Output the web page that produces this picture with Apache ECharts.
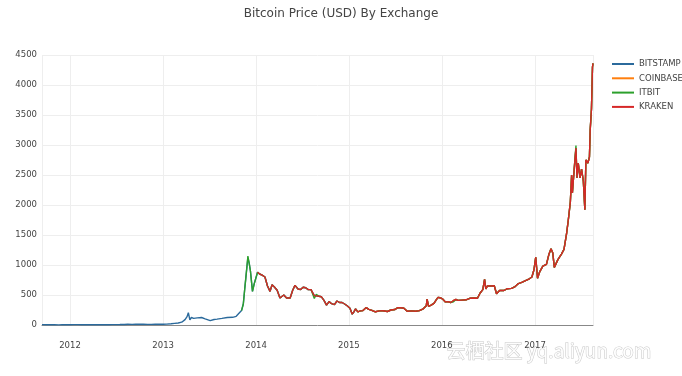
<!DOCTYPE html>
<html>
<head>
<meta charset="utf-8">
<script src="https://cdn.jsdelivr.net/npm/echarts@6/dist/echarts.min.js"></script>
<style>
html, body { margin: 0; padding: 0; background: #fff; }
#main { width: 682px; height: 376px; }
</style>
</head>
<body>
<div id="main"></div>
<script>
// prices (USD), roughly every two weeks, denser near spikes
var dates = [
    '2011-09-13','2011-10-01','2011-10-15','2011-11-01','2011-11-18','2011-12-01','2011-12-15',
    '2012-01-01','2012-01-15','2012-02-01','2012-02-15','2012-03-01','2012-03-15','2012-04-01','2012-04-15',
    '2012-05-01','2012-05-15','2012-06-01','2012-06-15','2012-07-01','2012-07-15','2012-08-01','2012-08-15',
    '2012-09-01','2012-09-15','2012-10-01','2012-10-15','2012-11-01','2012-11-15','2012-12-01','2012-12-15',
    '2013-01-01','2013-01-15','2013-02-01','2013-02-15','2013-03-01','2013-03-15','2013-03-28','2013-04-05',
    '2013-04-10','2013-04-16','2013-04-22','2013-05-01','2013-05-15','2013-06-01','2013-06-15','2013-07-05',
    '2013-07-20','2013-08-01','2013-08-20','2013-09-10','2013-10-01','2013-10-15','2013-10-25','2013-11-05',
    '2013-11-12','2013-11-18','2013-11-22','2013-11-30','2013-12-05','2013-12-10','2013-12-18','2013-12-25',
    '2014-01-07','2014-01-15','2014-01-25','2014-02-05','2014-02-15','2014-02-25','2014-03-05','2014-03-15',
    '2014-03-25','2014-04-05','2014-04-11','2014-04-20','2014-05-01','2014-05-15','2014-05-25','2014-06-03',
    '2014-06-15','2014-06-25','2014-07-05','2014-07-15','2014-07-25','2014-08-05','2014-08-18','2014-08-25',
    '2014-09-05','2014-09-15','2014-09-25','2014-10-05','2014-10-15','2014-10-25','2014-11-05','2014-11-15',
    '2014-11-25','2014-12-05','2014-12-15','2014-12-25',
    '2015-01-05','2015-01-14','2015-01-20','2015-01-27','2015-02-05','2015-02-15','2015-02-25','2015-03-10',
    '2015-03-20','2015-04-01','2015-04-15','2015-05-01','2015-05-15','2015-06-01','2015-06-15','2015-07-01',
    '2015-07-12','2015-07-25','2015-08-05','2015-08-18','2015-08-25','2015-09-05','2015-09-20','2015-10-05',
    '2015-10-20','2015-11-01','2015-11-04','2015-11-10','2015-11-20','2015-12-01','2015-12-10','2015-12-17',
    '2015-12-25',
    '2016-01-05','2016-01-15','2016-01-25','2016-02-05','2016-02-15','2016-02-25','2016-03-05','2016-03-20',
    '2016-04-05','2016-04-20','2016-05-05','2016-05-20','2016-05-30','2016-06-10','2016-06-17','2016-06-22',
    '2016-06-28','2016-07-10','2016-07-25','2016-08-03','2016-08-15','2016-09-01','2016-09-15','2016-10-01',
    '2016-10-15','2016-10-28','2016-11-10','2016-11-25','2016-12-10','2016-12-20','2016-12-28',
    '2017-01-04','2017-01-11','2017-01-20','2017-02-01','2017-02-15','2017-02-25','2017-03-05','2017-03-12',
    '2017-03-18','2017-03-25','2017-04-01','2017-04-15','2017-04-25','2017-05-05','2017-05-12','2017-05-20',
    '2017-05-25','2017-05-28','2017-06-06','2017-06-11','2017-06-15','2017-06-20','2017-06-27','2017-07-03',
    '2017-07-10','2017-07-16','2017-07-20','2017-07-28','2017-08-03','2017-08-06','2017-08-11','2017-08-15',
    '2017-08-17'
];

var bitstamp = [
    6.2, 5.0, 4.0, 3.2, 2.3, 3.0, 3.3,
    5.2, 6.8, 5.9, 4.5, 4.9, 5.3, 4.9, 5.0,
    5.0, 5.0, 5.3, 6.4, 6.7, 7.8, 9.4, 12.5,
    10.2, 11.4, 12.3, 11.9, 10.7, 11.2, 12.5, 13.4,
    13.5, 14.5, 20, 27, 34, 47, 90, 140,
    205, 85, 125, 110, 118, 125, 102, 72,
    92, 98, 110, 125, 128, 145, 190, 240,
    350, 620, 790, 1120, 1030, 900, 560, 690,
    880, 850, 830, 800, 650, 560, 670, 630,
    580, 450, 420, 500, 450, 450, 580, 660,
    600, 590, 630, 620, 590, 590, 490, 510,
    480, 470, 410, 330, 390, 355, 340, 400,
    375, 375, 350, 320,
    280, 180, 215, 270, 220, 235, 240, 290,
    260, 245, 220, 235, 237, 225, 250, 258,
    290, 288, 280, 230, 215, 235, 230, 240,
    270, 320, 430, 310, 330, 360, 420, 460,
    455,
    430, 385, 390, 375, 405, 425, 410, 415,
    420, 445, 450, 445, 530, 590, 760, 600,
    650, 650, 655, 520, 575, 575, 605, 610,
    640, 690, 710, 740, 770, 800, 920,
    1130, 780, 890, 980, 1010, 1180, 1270, 1200,
    960, 970, 1090, 1180, 1260, 1520, 1750, 2050,
    2500, 2200, 2700, 2950, 2450, 2700, 2450, 2600,
    2400, 1920, 2750, 2700, 2800, 3250, 3600, 4300,
    4360
];

// first trading day shown for each of the later exchanges
var coinbaseStart = '2015-01-27';
var itbitStart = '2013-11-05';
var krakenStart = '2014-01-07';

// spots where the ITBIT line shows apart from the others
var itbitOwn = [
    ['2013-11-30', 1150],
    ['2014-08-18', 440],
    ['2016-02-15', 385],
    ['2017-06-11', 2990]
];

var names = ['BITSTAMP', 'COINBASE', 'ITBIT', 'KRAKEN'];
var colors = ['#2b6a9c', '#ff7f0e', '#2ca02c', '#d62728'];
var yTicks = [0, 500, 1000, 1500, 2000, 2500, 3000, 3500, 4000, 4500];

function pairs(start, own) {
    var from = dates.indexOf(start);
    var out = [];
    for (var i = from; i < dates.length; i++) {
        var v = bitstamp[i];
        (own || []).forEach(function (o) {
            if (o[0] === dates[i]) v = o[1];
        });
        out.push([dates[i], v]);
    }
    return out;
}

var seriesData = [
    pairs(dates[0]),
    pairs(coinbaseStart),
    pairs(itbitStart, itbitOwn),
    pairs(krakenStart)
];

var dom = document.getElementById('main');
var myChart = echarts.init(dom);
var font = 'DejaVu Sans';

var option = {
    animation: false,
    color: colors,
    textStyle: { fontFamily: font },
    title: {
        text: 'Bitcoin Price (USD) By Exchange',
        left: 'center',
        top: 3,
        textStyle: { fontSize: 12, fontWeight: 'normal', color: '#444', fontFamily: font }
    },
    legend: {
        orient: 'vertical',
        left: 607,
        top: 54,
        itemWidth: 22,
        itemHeight: 2,
        itemGap: 4.3,
        icon: 'rect',
        data: names,
        textStyle: { fontSize: 8.5, color: '#444', lineHeight: 10, fontFamily: font }
    },
    grid: { left: 42, right: 89, top: 55, bottom: 51 },
    xAxis: {
        type: 'time',
        min: dates[0],
        max: dates[dates.length - 1],
        minInterval: 365 * 24 * 3600 * 1000,
        axisLine: { show: true, lineStyle: { color: '#888', width: 1 } },
        axisTick: { show: false },
        axisLabel: {
            formatter: '{yyyy}',
            color: '#444',
            fontSize: 8.5,
            margin: 16,
            fontFamily: font
        },
        splitLine: { show: true, lineStyle: { color: '#eee' } }
    },
    yAxis: {
        type: 'value',
        min: yTicks[0],
        max: yTicks[yTicks.length - 1],
        interval: 500,
        axisLine: { show: false },
        axisTick: { show: false },
        axisLabel: {
            color: '#444',
            fontSize: 8.5,
            margin: 5,
            fontFamily: font,
            formatter: function (v) { return String(v); }
        },
        splitLine: { lineStyle: { color: '#eee' } }
    },
    graphic: [{
        type: 'text',
        left: 446,
        top: 341,
        style: {
            text: '云栖社区 yq.aliyun.com',
            font: '19px "Noto Sans CJK SC"',
            fill: 'rgba(255,255,255,0.95)',
            stroke: '#c8c8c8',
            lineWidth: 1
        }
    }],
    series: names.map(function (n, i) {
        return {
            name: n,
            type: 'line',
            data: seriesData[i],
            showSymbol: false,
            lineStyle: { width: 1.4 }
        };
    })
};

if (option && typeof option === 'object') {
    myChart.setOption(option, true);
}

window.addEventListener('resize', function () {
    myChart.resize();
});
</script>
</body>
</html>
